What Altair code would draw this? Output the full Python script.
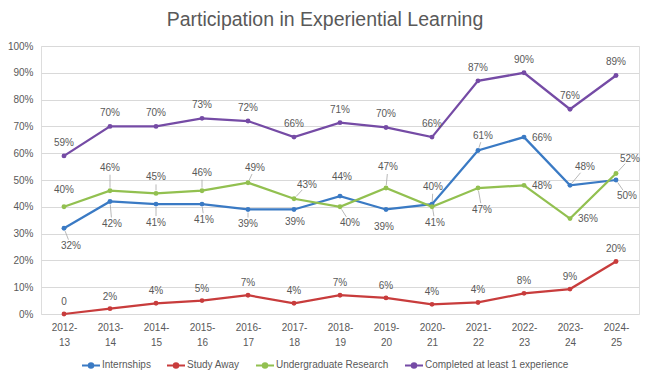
import math
import altair as alt
import pandas as pd

# ---------------- data ----------------
years = ["2012-13", "2013-14", "2014-15", "2015-16", "2016-17", "2017-18", "2018-19",
         "2019-20", "2020-21", "2021-22", "2022-23", "2023-24", "2024-25"]
series_names = ["Internships", "Study Away", "Undergraduate Research",
                "Completed at least 1 experience"]
internships = [32, 42, 41, 41, 39, 39, 44, 39, 41, 61, 66, 48, 50]
study_away = [0, 2, 4, 5, 7, 4, 7, 6, 3.6, 4.3, 7.7, 9.3, 19.6]
research = [40, 46, 45, 46, 49, 43, 40, 47, 40, 47, 48, 35.6, 52.4]
completed = [59, 70, 70, 73, 72, 66, 71.4, 69.6, 66, 87, 90, 76.4, 89]

# ---------------- styles ----------------
colors = ["#3A7AC4", "#C83C3C", "#92C050", "#754BA5"]
FONT = "Liberation Sans"
TXT = "#595959"
PLOT_W, PLOT_H = 598, 268

# label nudges in pixels (dx, dy) relative to each point
label_nudges = {
    "Internships": [(7, 18), (2, 23), (0, 19), (2, 16), (0, 15), (1, 13), (2, -19),
                    (-2, 18), (3, 19), (5, -15), (18, 1), (15, -18), (11, 16)],
    "Study Away": [(0, -12)] * 13,
    "Undergraduate Research": [(0, -17), (0, -23), (0, -16), (0, -18), (7, -15), (13, -14),
                               (10, 16), (2, -21), (1, -20), (4, 22), (18, 1), (18, 0),
                               (14, -15)],
    "Completed at least 1 experience": [(0, -13)] * 13,
}
# which labels have a leader line to their point
leader_flags = {
    "Internships": [1, 1, 1, 1, 1, 0, 0, 0, 1, 1, 0, 1, 1],
    "Study Away": [0] * 13,
    "Undergraduate Research": [0, 1, 1, 1, 1, 1, 1, 1, 1, 1, 0, 0, 1],
    "Completed at least 1 experience": [0] * 13,
}

values = [internships, study_away, research, completed]
rows, leaders = [], []
for name, vals in zip(series_names, values):
    for i, (yr, v) in enumerate(zip(years, vals)):
        dx, dy = label_nudges[name][i]
        rows.append({
            "year": yr, "series": name, "value": v / 100.0,
            "label": "0" if v == 0 else f"{round(v)}%",
            "dx": dx,
            "label_y": v / 100.0 - dy / PLOT_H,
        })
        if leader_flags[name][i]:
            d = math.hypot(dx, dy)
            for k, frac in enumerate((3.0 / d, max(d - 7.0, 4.0) / d)):
                leaders.append({
                    "id": f"{name}-{i}", "year": yr, "k": k,
                    "dx": dx * frac,
                    "y": v / 100.0 - dy * frac / PLOT_H,
                })
df = pd.DataFrame(rows)
df_lead = pd.DataFrame(leaders)

x_enc = alt.X(
    "year:N", sort=years,
    scale=alt.Scale(type="point", padding=0.5),
    axis=alt.Axis(
        title=None, domain=False, ticks=False, grid=False,
        labelExpr="[split(datum.label, '-')[0] + '-', split(datum.label, '-')[1]]",
        labelFont=FONT, labelFontSize=10, labelColor=TXT, labelAngle=0,
        labelPadding=8, labelLineHeight=15,
    ),
)
y_scale = alt.Scale(domain=[0, 1], nice=False)
y_axis = alt.Axis(
    title=None, domain=False, ticks=False, format=".0%",
    values=[i / 10 for i in range(11)],
    labelFont=FONT, labelFontSize=10, labelColor=TXT, labelPadding=8,
    gridColor="#D9D9D9", gridWidth=1,
)
y_enc = alt.Y("value:Q", scale=y_scale, axis=y_axis)
color_scale = alt.Scale(domain=series_names, range=colors)

base = alt.Chart(df)

lines = base.mark_line(strokeWidth=2.25).encode(
    x=x_enc, y=y_enc,
    color=alt.Color(
        "series:N", scale=color_scale, sort=series_names,
        legend=alt.Legend(
            title=None, orient="none", direction="horizontal",
            legendX=40, legendY=309,
            symbolType="M-1,0H1M0.25,0A0.25,0.25,0,1,1,-0.25,0A0.25,0.25,0,1,1,0.25,0",
            symbolSize=324, symbolStrokeWidth=2,
            labelFont=FONT, labelFontSize=10, labelColor=TXT,
            labelOffset=1, columnPadding=12,
        ),
    ),
)
points = base.mark_circle(size=24, opacity=1).encode(
    x=x_enc, y=y_enc,
    color=alt.Color("series:N", scale=color_scale, legend=None),
)
leader_lines = alt.Chart(df_lead).mark_line(color="#A6A6A6", strokeWidth=0.8).encode(
    x=x_enc,
    y=alt.Y("y:Q", scale=y_scale, axis=y_axis),
    xOffset=alt.XOffset("dx:Q", scale=None),
    detail="id:N",
    order="k:Q",
)
labels = base.mark_text(font=FONT, fontSize=10, color=TXT).encode(
    x=x_enc,
    y=alt.Y("label_y:Q", scale=y_scale, axis=y_axis),
    text="label:N",
    xOffset=alt.XOffset("dx:Q", scale=None),
)

chart = alt.layer(leader_lines, lines, points, labels).properties(
    width=PLOT_W, height=PLOT_H,
    title=alt.TitleParams(
        "Participation in Experiential Learning",
        font=FONT, fontSize=19.5, fontWeight="normal", color=TXT,
        anchor="middle", dx=-15, offset=11,
    ),
    autosize=alt.AutoSizeParams(type="none"),
    padding={"left": 33, "top": 38, "right": 3, "bottom": 56},
).configure_view(stroke=None).configure(background="white")

chart.save("out.html", embed_options={"renderer": "svg", "actions": False})
